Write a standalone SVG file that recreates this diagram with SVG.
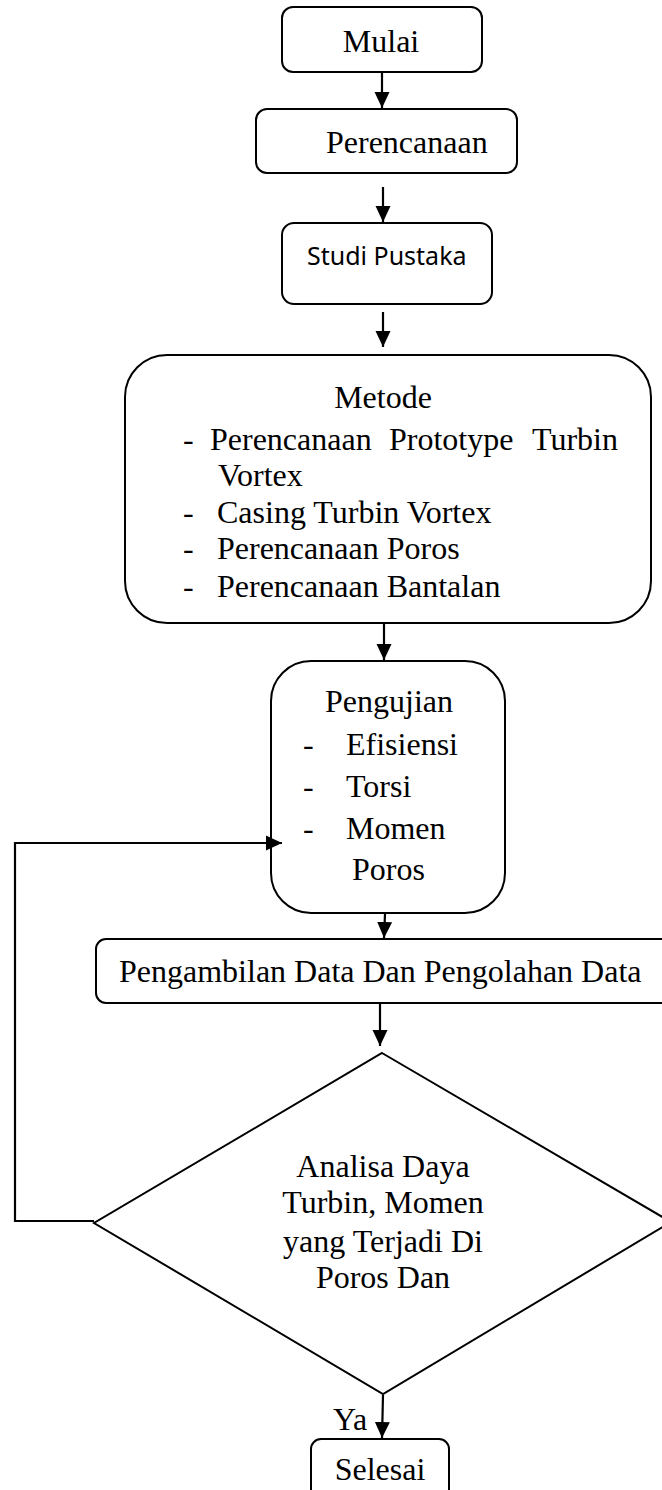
<svg xmlns="http://www.w3.org/2000/svg" width="662" height="1490" viewBox="0 0 662 1490">
<style>
.box{fill:#fff;stroke:#000;stroke-width:2}
.ln{fill:none;stroke:#000;stroke-width:2.2}
.t{font-family:"Liberation Serif","Times New Roman",serif;font-size:32px;fill:#000}
.s{font-family:"Noto Sans","Liberation Sans",sans-serif;font-size:25px;fill:#000}
.c{text-anchor:middle}
</style>
<defs>
<marker id="ah" markerUnits="userSpaceOnUse" markerWidth="16" markerHeight="16" refX="16" refY="8" orient="auto">
<path d="M0,0.5 L16,8 L0,15.5 z" fill="#000"/>
</marker>
</defs>
<rect width="662" height="1490" fill="#fff"/>
<g id="mulai">
<rect class="box" x="282" y="7" width="200" height="65" rx="11"/>
<text class="t c" x="381" y="52">Mulai</text>
</g>
<g id="perencanaan">
<rect class="box" x="256" y="109" width="261" height="64" rx="11"/>
<text class="t" x="326" y="153">Perencanaan</text>
</g>
<g id="studi">
<rect class="box" x="282" y="223" width="210" height="81" rx="12"/>
<text class="s" x="307" y="265">Studi Pustaka</text>
</g>
<g id="metode">
<rect class="box" x="125" y="355" width="526" height="268" rx="42"/>
<text class="t c" x="383" y="408">Metode</text>
<text class="t" y="450"><tspan x="183">-</tspan><tspan x="210">Perencanaan</tspan><tspan x="389">Prototype</tspan><tspan x="532">Turbin</tspan></text>
<text class="t" x="218" y="486">Vortex</text>
<text class="t" y="523"><tspan x="183">-</tspan><tspan x="217">Casing Turbin Vortex</tspan></text>
<text class="t" y="559"><tspan x="183">-</tspan><tspan x="217">Perencanaan Poros</tspan></text>
<text class="t" y="597"><tspan x="183">-</tspan><tspan x="217">Perencanaan Bantalan</tspan></text>
</g>
<g id="pengujian">
<rect class="box" x="271" y="661" width="234" height="252" rx="40"/>
<text class="t" x="325" y="712">Pengujian</text>
<text class="t" y="755"><tspan x="303">-</tspan><tspan x="346">Efisiensi</tspan></text>
<text class="t" y="797"><tspan x="303">-</tspan><tspan x="346">Torsi</tspan></text>
<text class="t" y="839"><tspan x="303">-</tspan><tspan x="346">Momen</tspan></text>
<text class="t" x="352" y="880">Poros</text>
</g>
<g id="pengambilan">
<rect class="box" x="96" y="939" width="580" height="64" rx="10"/>
<text class="t" x="119" y="982">Pengambilan Data Dan Pengolahan Data</text>
</g>
<g id="analisa">
<polygon class="box" points="382,1053 671,1222 383,1394 94,1223"/>
<text class="t c" x="383" y="1177">Analisa Daya</text>
<text class="t c" x="383" y="1213">Turbin, Momen</text>
<text class="t c" x="383" y="1252">yang Terjadi Di</text>
<text class="t c" x="383" y="1288">Poros Dan</text>
</g>
<g id="selesai">
<rect class="box" x="311" y="1439" width="138" height="62" rx="10"/>
<text class="t c" x="380" y="1480">Selesai</text>
</g>
<g id="connectors">
<line class="ln" x1="382" y1="72" x2="382" y2="108" marker-end="url(#ah)"/>
<line class="ln" x1="383" y1="187" x2="383" y2="222" marker-end="url(#ah)"/>
<line class="ln" x1="383" y1="312" x2="383" y2="347" marker-end="url(#ah)"/>
<line class="ln" x1="384" y1="624" x2="384" y2="660" marker-end="url(#ah)"/>
<line class="ln" x1="385" y1="914" x2="384" y2="938" marker-end="url(#ah)"/>
<line class="ln" x1="380" y1="1004" x2="380" y2="1046" marker-end="url(#ah)"/>
<polyline class="ln" points="94,1221 15,1221 15,843 282,843" marker-end="url(#ah)"/>
<line class="ln" x1="383" y1="1395" x2="382" y2="1438" marker-end="url(#ah)"/>
<text class="t" x="333" y="1430">Ya</text>
</g>
</svg>
